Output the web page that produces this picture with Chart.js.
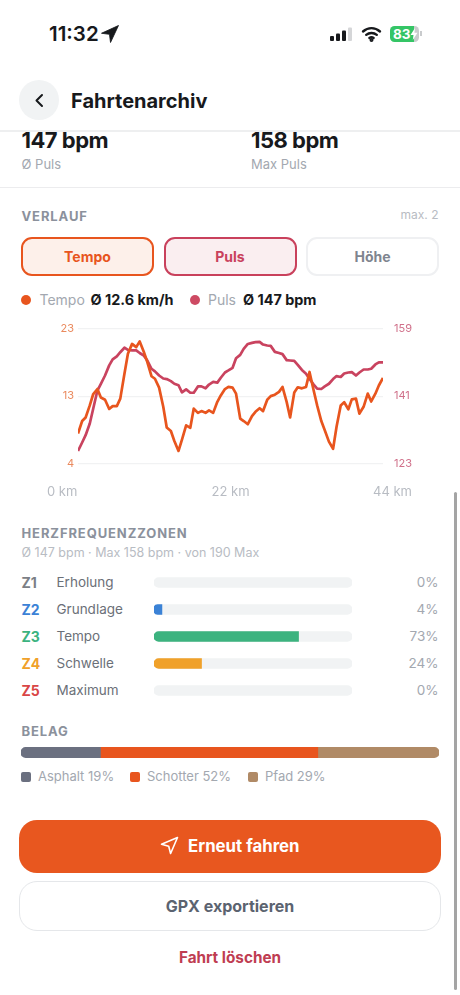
<!DOCTYPE html>
<html lang="de">
<head>
<meta charset="utf-8">
<title>Fahrtenarchiv</title>
<script src="https://cdn.jsdelivr.net/npm/chart.js@4"></script>
<style>
html, body { margin: 0; padding: 0; background: #fff; }
body { position: relative; width: 460px; height: 995px; overflow: hidden; font-family: Inter, "Noto Sans", sans-serif; color: #17191c; }
.abs { position: absolute; white-space: nowrap; line-height: 1; }
.rule { position: absolute; left: 0; width: 460px; height: 1px; background: #ececee; }
.head { font-size: 13px; font-weight: 700; color: #8b919c; letter-spacing: 0.9px; }
.stat { font-size: 22px; font-weight: 700; letter-spacing: -0.5px; }
.sub { font-size: 13px; color: #a3a8b0; }
.pill { position: absolute; top: 237px; height: 39px; width: 133px; box-sizing: border-box; border-radius: 11px; border: 2px solid; font-size: 14px; font-weight: 700; display: flex; align-items: center; justify-content: center; }
.dot { position: absolute; width: 10px; height: 10px; border-radius: 50%; top: 295px; }
.swatch { position: absolute; width: 10px; height: 10px; border-radius: 2px; top: 772px; }
canvas { position: absolute; }
</style>
</head>
<body>
<!-- status bar -->
<div class="abs" style="left:49px;top:24px;font-size:20.5px;font-weight:600">11:32</div>
<svg class="abs" style="left:101px;top:25px" width="18" height="18" viewBox="0 0 17 17"><path d="M16.5 .5 L0.5 7.8 L8 8.8 L9 16.5 Z" fill="#17191c" stroke="#17191c" stroke-width="0.8" stroke-linejoin="round"/></svg>
<svg class="abs" style="left:330px;top:27px" width="23" height="15" viewBox="0 0 23 15">
  <rect x="0" y="9" width="4" height="5" rx="1" fill="#17191c"/><rect x="6" y="6.500" width="4" height="7.500" rx="1" fill="#17191c"/>
  <rect x="12" y="3.500" width="4" height="10.500" rx="1" fill="#17191c"/><rect x="18" y="0.500" width="4" height="13.500" rx="1" fill="#d5d6d8"/>
</svg>
<svg class="abs" style="left:361px;top:26px" width="21" height="16" viewBox="0 0 21 16" fill="none" stroke="#17191c" stroke-width="2.400" stroke-linecap="round">
  <path d="M2 5.500 C7 1 14 1 19 5.500"/><path d="M5.200 8.800 C8.200 6.300 12.800 6.300 15.800 8.800"/><path d="M8.400 12 C9.600 11 11.400 11 12.600 12"/><circle cx="10.500" cy="14" r="0.800" fill="#17191c"/>
</svg>
<div class="abs" style="left:390px;top:26px;width:29px;height:16px;border-radius:4.500px;background:linear-gradient(90deg,#35c566 0 84%,#c9cbcd 84%);color:#fff;font-size:13.500px;font-weight:700;padding:1.500px 0 0 3px;box-sizing:border-box">83</div>
<div class="abs" style="left:420px;top:31px;width:1.500px;height:5px;background:#c9cbcd"></div>
<svg class="abs" style="left:410px;top:28px" width="8" height="12" viewBox="0 0 8 12"><path d="M5 0 L0.500 7 H3.500 L2.800 12 L7.500 4.800 H4.400 Z" fill="#fff"/></svg>

<!-- header -->
<div class="abs" style="left:19px;top:80px;width:40px;height:40px;border-radius:50%;background:#f1f3f4"></div>
<svg class="abs" style="left:33px;top:93px" width="12" height="15" viewBox="0 0 12 15"><path d="M9 2 L3.500 7.500 L9 13" fill="none" stroke="#17191c" stroke-width="2" stroke-linecap="round" stroke-linejoin="round"/></svg>
<div class="abs" style="left:71px;top:91px;font-size:20px;font-weight:700">Fahrtenarchiv</div>
<div class="rule" style="top:130px;height:1.500px;background:#eeeff0"></div>

<!-- summary stats -->
<div class="abs stat" style="left:21.500px;top:129px">147 bpm</div>
<div class="abs sub" style="left:21.500px;top:157.500px">Ø Puls</div>
<div class="abs stat" style="left:251px;top:129px">158 bpm</div>
<div class="abs sub" style="left:251px;top:157.500px">Max Puls</div>
<div class="rule" style="top:187px"></div>

<!-- Verlauf -->
<div class="abs head" style="left:21.500px;top:209.500px">VERLAUF</div>
<div class="abs" style="right:21.500px;top:209px;font-size:12px;color:#b8bcc3">max. 2</div>
<div class="pill" style="left:21px;background:#fdf0ea;border-color:#e8551e;color:#e8551e">Tempo</div>
<div class="pill" style="left:163.500px;background:#faeef0;border-color:#c9415c;color:#c9415c">Puls</div>
<div class="pill" style="left:306px;background:#fff;border-color:#eff0f2;color:#7f858f">Höhe</div>

<div class="dot" style="left:21px;background:#e8551e"></div>
<div class="abs" style="left:39.500px;top:293px;font-size:14px;color:#a3a8b0">Tempo</div>
<div class="abs" style="left:90.500px;top:293px;font-size:14.400px;font-weight:700">Ø 12.6 km/h</div>
<div class="dot" style="left:190px;background:#cd4a63"></div>
<div class="abs" style="left:208px;top:293px;font-size:14px;color:#a3a8b0">Puls</div>
<div class="abs" style="left:243px;top:293px;font-size:14.400px;font-weight:700">Ø 147 bpm</div>

<canvas id="lineChart" style="left:20px;top:318px;width:420px;height:182px"></canvas>

<!-- Herzfrequenzzonen -->
<div class="abs head" style="left:21.500px;top:527px">HERZFREQUENZZONEN</div>
<div class="abs" style="left:21.500px;top:547px;font-size:12.500px;color:#b8bcc3">Ø 147 bpm · Max 158 bpm · von 190 Max</div>
<div id="zoneRows"></div>
<canvas id="zoneChart" style="left:154px;top:569px;width:198px;height:135px"></canvas>

<!-- Belag -->
<div class="abs head" style="left:21.500px;top:725px">BELAG</div>
<canvas id="surfaceChart" style="left:21px;top:746px;width:418px;height:13px"></canvas>
<div id="surfaceLegend"></div>

<!-- actions -->
<div class="abs" style="left:19px;top:820px;width:422px;height:53px;border-radius:18px;background:#e8571f"></div>
<svg class="abs" style="left:160px;top:836px" width="19" height="19" viewBox="0 0 19 19"><path d="M17.500 1.500 L1.500 8.300 L8.700 10.200 L10.600 17.500 Z" fill="none" stroke="#fff" stroke-width="1.600" stroke-linejoin="round"/></svg>
<div class="abs" style="left:188px;top:838px;font-size:16.800px;font-weight:700;color:#fff">Erneut fahren</div>
<div class="abs" style="left:19px;top:880.500px;width:422px;height:50px;box-sizing:border-box;border-radius:18px;border:1.500px solid #e5e7ea;display:flex;align-items:center;justify-content:center;font-size:16px;font-weight:700;color:#5b6370">GPX exportieren</div>
<div class="abs" style="left:0;width:460px;top:950px;text-align:center;font-size:15.300px;font-weight:700;color:#bf3d52">Fahrt löschen</div>

<!-- scrollbar -->
<div class="abs" style="left:453.500px;top:492px;width:3px;height:498px;border-radius:2px;background:#a4a4a4"></div>

<script>
// Distance along the ride, km
const distanceKm = [0,0.6,1.1,1.7,2.2,2.8,3.3,3.9,4.5,5.0,5.6,6.1,6.7,7.2,7.8,8.4,8.9,9.5,10.0,10.6,
  11.1,11.7,12.3,12.8,13.4,13.9,14.5,15.0,15.6,16.2,16.7,17.3,17.8,18.4,18.9,19.5,20.1,20.6,21.2,21.7,
  22.3,22.8,23.4,23.9,24.5,25.1,25.6,26.2,26.7,27.3,27.8,28.4,29.0,29.5,30.1,30.6,31.2,31.7,32.3,32.9,
  33.4,34.0,34.5,35.1,35.6,36.2,36.8,37.3,37.9,38.4,39.0,39.5,40.1,40.6,41.2,41.8,42.3,42.9,43.4,44.0];

// Tempo in km/h
const tempoValues = [8.25,10.0,10.5,12.2,13.8,14.5,13.3,13.0,11.7,12.1,12.1,13.15,16.65,19.45,20.85,20.4,21.2,19.7,18.3,16.3,
  15.95,14.7,12.0,9.1,8.6,7.2,5.8,7.4,9.4,9.05,11.75,11.15,11.4,11.15,11.5,11.15,12.7,13.6,14.5,14.8,
  14.7,13.85,10.35,10.0,9.55,10.7,11.3,11.8,11.4,13.0,13.5,13.7,14.1,14.8,12.7,10.5,14.0,14.75,14.6,14.8,
  16.9,14.3,12.2,10.0,8.7,7.1,6.1,9.2,12.2,12.65,11.65,13.05,13.15,11.05,12.0,13.85,12.75,13.85,15.0,16.05];

// Puls in bpm
const pulseValues = [126.4,128.65,130.6,133.7,137.7,142.5,144.3,146.5,149.2,150.8,151.6,152.7,153.9,153.3,153.2,153.2,152.5,151.8,150.5,148.3,
  147.6,146.5,145.7,145.55,145.0,144.3,143.9,142.0,142.8,141.9,141.9,143.6,143.6,143.1,144.1,144.8,144.6,145.9,147.3,147.85,
  148.55,151.1,152.0,153.6,154.9,155.2,155.4,155.45,154.75,154.5,154.4,152.8,152.5,152.2,150.6,150.5,150.4,149.35,148.0,147.0,
  145.6,144.1,143.0,142.9,143.6,144.3,145.55,146.35,146.1,147.05,147.3,147.4,146.5,147.3,148.1,148.1,148.3,149.45,150.0,150.0];

const distanceTicks = [0, 22, 44];
const tempoTicks = [4, 13.5, 23];
const tempoTickLabels = ['4', '13', '23'];
const pulseTicks = [123, 141, 159];

const zoneCodes = ['Z1', 'Z2', 'Z3', 'Z4', 'Z5'];
const zoneNames = ['Erholung', 'Grundlage', 'Tempo', 'Schwelle', 'Maximum'];
const zoneShares = [0, 4, 73, 24, 0];
const zoneColors = ['#7b7f86', '#3b82d6', '#3cb37f', '#f0a12a', '#d94646'];
const zoneTrack = [100, 100, 100, 100, 100];

const surfaceNames = ['Asphalt', 'Schotter', 'Pfad'];
const surfaceShares = [19, 52, 29];
const surfaceColors = ['#6b7080', '#e8551e', '#b08a66'];

const setMarginWidth = (width) => (scale) => { scale.width = width; };

// The 0 km and 44 km labels sit flush with the edges of the block, not under the first and last point
const edgeLabels = {
    id: 'edgeLabels',
    beforeDraw(chart) {
        const items = chart.scales.x.getLabelItems();
        items[0].options.textAlign = 'left';
        items[0].options.translation[0] = 27;
        items[2].options.textAlign = 'right';
        items[2].options.translation[0] = 392;
    }
};

new Chart(document.getElementById('lineChart'), {
    type: 'line',
    plugins: [edgeLabels],
    data: {
        labels: distanceKm,
        datasets: [
            { label: 'Tempo', data: tempoValues, yAxisID: 'yTempo', borderColor: '#e8551e' },
            { label: 'Puls', data: pulseValues, yAxisID: 'yPulse', borderColor: '#c9435f' }
        ]
    },
    options: {
        responsive: false,
        animation: false,
        layout: { padding: { top: 10, left: 0, right: 0, bottom: 0 }, autoPadding: false },
        elements: { point: { radius: 0 }, line: { borderWidth: 2.7, tension: 0, borderJoinStyle: 'round' } },
        plugins: { legend: { display: false }, tooltip: { enabled: false } },
        scales: {
            x: {
                type: 'linear', min: 0, max: 44,
                afterBuildTicks: (scale) => { scale.ticks = distanceTicks.map((value) => ({ value })); },
                afterFit: (scale) => { scale.height = 36.3; },
                grid: { display: false }, border: { display: false },
                ticks: { callback: (v) => v + ' km', color: '#b8bcc3', font: { family: 'Inter', size: 13 }, maxRotation: 0, padding: 13 }
            },
            yTempo: {
                position: 'left', min: 4, max: 23,
                afterBuildTicks: (scale) => { scale.ticks = tempoTicks.map((value) => ({ value })); },
                afterFit: setMarginWidth(58),
                grid: { color: '#f1f2f3', lineWidth: 1.2, drawTicks: false }, border: { display: false },
                ticks: { callback: (v, i) => tempoTickLabels[i], color: '#ea8a5e', font: { family: 'Inter', size: 11 }, padding: 4 }
            },
            yPulse: {
                position: 'right', min: 123, max: 159,
                afterBuildTicks: (scale) => { scale.ticks = pulseTicks.map((value) => ({ value })); },
                afterFit: setMarginWidth(57),
                grid: { display: false }, border: { display: false },
                ticks: { color: '#d0708a', font: { family: 'Inter', size: 11 }, padding: 3 }
            }
        }
    }
});

new Chart(document.getElementById('zoneChart'), {
    type: 'bar',
    data: {
        labels: zoneCodes,
        datasets: [
            {
                label: 'Anteil',
                data: zoneShares,
                // an empty zone shows only the track
                backgroundColor: (ctx) => ctx.raw > 0 ? zoneColors[ctx.dataIndex] : 'transparent',
                borderRadius: { topLeft: 5, bottomLeft: 5 },
                borderSkipped: false
            },
            { label: 'Spur', data: zoneTrack, backgroundColor: '#f1f3f4', borderRadius: 5, borderSkipped: false }
        ]
    },
    options: {
        indexAxis: 'y',
        responsive: false,
        animation: false,
        layout: { autoPadding: false },
        datasets: { bar: { barThickness: 10, grouped: false } },
        plugins: { legend: { display: false }, tooltip: { enabled: false } },
        scales: {
            x: { display: false, min: 0, max: 100 },
            y: { display: false }
        }
    }
});

new Chart(document.getElementById('surfaceChart'), {
    type: 'bar',
    data: {
        labels: ['Belag'],
        datasets: surfaceNames.map((name, i) => ({
            label: name,
            data: [surfaceShares[i]],
            backgroundColor: surfaceColors[i],
            borderSkipped: false,
            borderRadius: i === 0 ? { topLeft: 5, bottomLeft: 5 } : i === 2 ? { topRight: 5, bottomRight: 5 } : 0
        }))
    },
    options: {
        indexAxis: 'y',
        responsive: false,
        animation: false,
        layout: { autoPadding: false },
        datasets: { bar: { barThickness: 10.5 } },
        plugins: { legend: { display: false }, tooltip: { enabled: false } },
        scales: {
            x: { display: false, stacked: true, min: 0, max: 100 },
            y: { display: false, stacked: true }
        }
    }
});

// Row labels for the zones
const rowTops = [575.5, 602.5, 629.5, 656.5, 683.5];
document.getElementById('zoneRows').innerHTML = zoneCodes.map((code, i) => `
    <div class="abs" style="left:21.5px;top:${rowTops[i]}px;font-size:14px;font-weight:700;color:${zoneColors[i]}">${code}</div>
    <div class="abs" style="left:56.5px;top:${rowTops[i]}px;font-size:13.5px;color:#6b7078">${zoneNames[i]}</div>
    <div class="abs" style="right:21.5px;top:${rowTops[i]}px;font-size:13.5px;color:#a3a8b0">${zoneShares[i]}%</div>`).join('');

// Legend under the surface bar
const legendLefts = [21, 130, 248];
document.getElementById('surfaceLegend').innerHTML = surfaceNames.map((name, i) => `
    <div class="swatch" style="left:${legendLefts[i]}px;background:${surfaceColors[i]}"></div>
    <div class="abs" style="left:${legendLefts[i] + 17}px;top:770px;font-size:13px;color:#a3a8b0">${name} ${surfaceShares[i]}%</div>`).join('');
</script>
</body>
</html>
